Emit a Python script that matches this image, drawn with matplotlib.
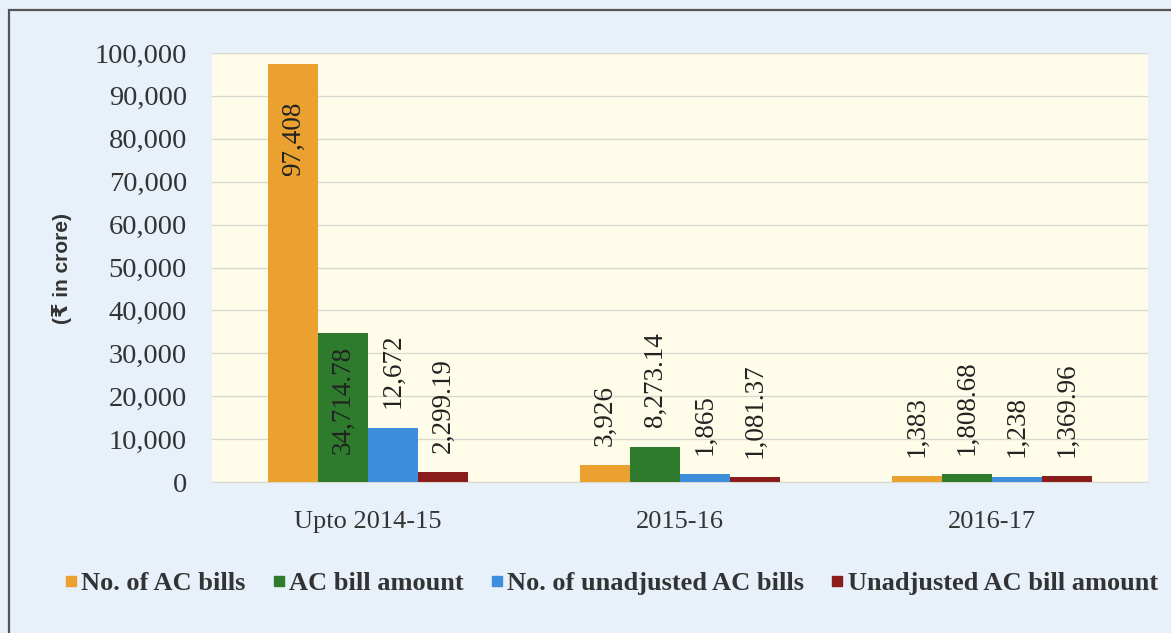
import matplotlib
matplotlib.use("Agg")
import matplotlib.pyplot as plt
from matplotlib.patches import Rectangle
from matplotlib.lines import Line2D
import numpy as np

categories = ["Upto 2014-15", "2015-16", "2016-17"]
series_names = ["No. of AC bills", "AC bill amount", "No. of unadjusted AC bills", "Unadjusted AC bill amount"]
no_ac_bills = [97408, 3926, 1383]
ac_bill_amount = [34714.78, 8273.14, 1808.68]
no_unadjusted = [12672, 1865, 1238]
unadjusted_amount = [2299.19, 1081.37, 1369.96]
label_texts = [
    ["97,408", "3,926", "1,383"],
    ["34,714.78", "8,273.14", "1,808.68"],
    ["12,672", "1,865", "1,238"],
    ["2,299.19", "1,081.37", "1,369.96"],
]
yticks = [0, 10000, 20000, 30000, 40000, 50000, 60000, 70000, 80000, 90000, 100000]
ytick_labels = ["0", "10,000", "20,000", "30,000", "40,000", "50,000", "60,000",
                "70,000", "80,000", "90,000", "100,000"]

colors = ["#EBA12F", "#2E7B2E", "#3D8EDB", "#8B1C1C"]
values = [no_ac_bills, ac_bill_amount, no_unadjusted, unadjusted_amount]

W, H = 1171, 633
fig = plt.figure(figsize=(W / 100, H / 100), dpi=100)
fig.patch.set_facecolor("#E8F0FA")

# outer border (top/left visible)
fig.add_artist(Rectangle((9 / W, -0.05), 1.2, 1 - 10 / H + 0.05, transform=fig.transFigure,
                         fill=False, edgecolor="#555555", linewidth=1.6))

ax = fig.add_axes([212 / W, 1 - 482 / H, (1148 - 212) / W, (482 - 53) / H])
ax.set_facecolor("#FFFDE9")

serif = ["Liberation Serif", "DejaVu Serif"]
x = np.arange(len(categories))
bw = 0.16
offsets = [-1.5 * bw, -0.5 * bw, 0.5 * bw, 1.5 * bw]

for i, (vals, col) in enumerate(zip(values, colors)):
    bars = ax.bar(x + offsets[i], vals, width=bw, color=col, zorder=3)
    for j, b in enumerate(bars):
        h = b.get_height()
        cx = b.get_x() + b.get_width() / 2
        if h > 30000:
            pad = -27 if i == 0 else -9
            ax.annotate(label_texts[i][j], (cx, h), xytext=(0, pad), textcoords="offset points",
                        rotation=90, ha="center", va="top", fontsize=19.5, family=serif,
                        color="#222222", zorder=4)
        else:
            ax.annotate(label_texts[i][j], (cx, h), xytext=(0, 14), textcoords="offset points",
                        rotation=90, ha="center", va="bottom", fontsize=19.5, family=serif,
                        color="#222222", zorder=4)

ax.set_xlim(-0.5, 2.5)
ax.set_ylim(0, 100000)
ax.set_yticks(yticks)
ax.set_yticklabels(ytick_labels, fontsize=20.5, family=serif, color="#333333")
ax.set_xticks(x)
ax.set_xticklabels(categories, fontsize=19, family=serif, color="#333333")
ax.tick_params(length=0)
ax.tick_params(axis="y", pad=18)
ax.tick_params(axis="x", pad=21)
ax.grid(axis="y", color="#D8D8CF", linewidth=1.0, zorder=0)
for s in ["left", "right", "top"]:
    ax.spines[s].set_visible(False)
ax.spines["bottom"].set_color("#D8D8CF")

fig.text(62 / W, 1 - 268 / H, "(₹ in crore)", rotation=90, ha="center", va="center",
         fontsize=15, fontweight="bold", family=["Liberation Sans", "DejaVu Sans"], color="#333333")

handles = [Line2D([], [], marker="s", linestyle="none", markersize=7, color=c) for c in colors]
fig.legend(handles, series_names, loc="center", bbox_to_anchor=(611 / W, 1 - 583 / H), ncol=4,
           frameon=False, prop={"family": serif, "weight": "bold", "size": 19},
           handlelength=0.5, handletextpad=0.15, columnspacing=1.0, labelcolor="#333333")

fig.savefig("out.png", dpi=100, facecolor=fig.get_facecolor())
